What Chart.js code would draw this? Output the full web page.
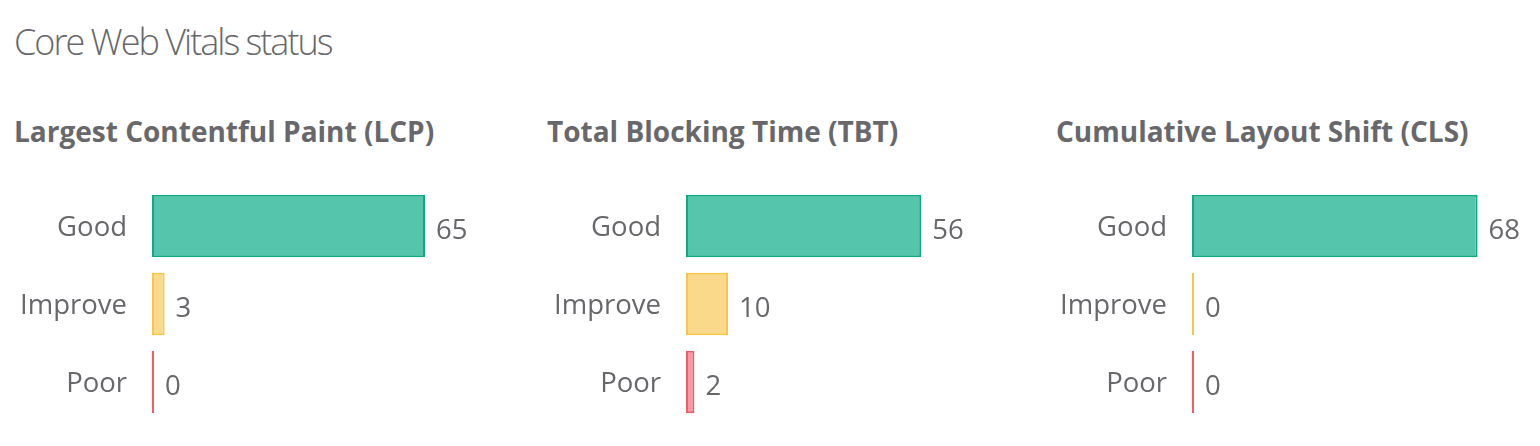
<!DOCTYPE html>
<html>
<head>
<meta charset="utf-8">
<script src="https://cdn.jsdelivr.net/npm/chart.js@4/dist/chart.umd.min.js"></script>
<style>
  html, body { margin: 0; padding: 0; background: #fff; overflow: hidden; width: 1540px; height: 446px; }
  body { position: relative; font-family: "Open Sans", sans-serif; color: #68686c; }
  #main-title { position: absolute; left: 14px; top: 20px; font-size: 36px; font-weight: 300; letter-spacing: -2px; line-height: 44px; white-space: nowrap; }
  .sec-title { position: absolute; top: 113px; font-size: 28px; font-weight: 700; letter-spacing: 0px; line-height: 36px; white-space: nowrap; }
  canvas { position: absolute; top: 0; display: block; }
</style>
</head>
<body>
<div id="main-title">Core Web Vitals status</div>
<div class="sec-title" id="t0" style="left:14px">Largest Contentful Paint (LCP)</div>
<div class="sec-title" id="t1" style="left:547px">Total Blocking Time (TBT)</div>
<div class="sec-title" id="t2" style="left:1056px">Cumulative Layout Shift (CLS)</div>
<canvas id="c0" width="582" height="446" style="left:0px"></canvas>
<canvas id="c1" width="582" height="446" style="left:534px"></canvas>
<canvas id="c2" width="582" height="446" style="left:1040px"></canvas>
<script>
const categories = ["Good", "Improve", "Poor"];
const lcpValues = [65, 3, 0];
const tbtValues = [56, 10, 2];
const clsValues = [68, 0, 0];
const axisMax = 100;

const fillColors = ["#55c6ac", "#fbd98a", "#f7999e"];
const borderColors = ["#12a884", "#f7c548", "#ea5f69"];
const textColor = "#68686c";
const fontFamily = "'Open Sans', sans-serif";
const labelSize = 27.5;

const valueLabels = {
  id: "valueLabels",
  afterDatasetsDraw(chart) {
    const ctx = chart.ctx;
    const meta = chart.getDatasetMeta(0);
    const data = chart.data.datasets[0].data;
    ctx.save();
    ctx.font = labelSize + "px " + fontFamily;
    ctx.fillStyle = textColor;
    ctx.textAlign = "left";
    ctx.textBaseline = "middle";
    meta.data.forEach((bar, i) => {
      const right = Math.max(bar.x, bar.base + 2);
      ctx.fillText(String(data[i]), right + 11, bar.y + 5);
    });
    ctx.restore();
  }
};

function makeChart(id, values) {
  return new Chart(document.getElementById(id), {
    type: "bar",
    data: {
      labels: categories,
      datasets: [{
        data: values,
        backgroundColor: fillColors,
        borderColor: borderColors,
        borderWidth: 2,
        borderSkipped: false,
        minBarLength: 2,
        barPercentage: 0.8,
        categoryPercentage: 1.0
      }]
    },
    options: {
      indexAxis: "y",
      responsive: false,
      maintainAspectRatio: false,
      devicePixelRatio: 1,
      animation: false,
      layout: { padding: { top: 187, bottom: 25, left: 0, right: 10 } },
      plugins: { legend: { display: false }, tooltip: { enabled: false }, title: { display: false } },
      scales: {
        x: { min: 0, max: axisMax, display: false },
        y: {
          grid: { display: false, drawTicks: false },
          border: { display: false },
          ticks: { padding: 25, labelOffset: 2, color: textColor, font: { family: fontFamily, size: labelSize } },
          afterFit(scale) {
            scale.width = 152;
            scale.paddingTop = 0;
            scale.paddingBottom = 0;
          }
        }
      }
    },
    plugins: [valueLabels]
  });
}

makeChart("c0", lcpValues);
makeChart("c1", tbtValues);
makeChart("c2", clsValues);
</script>
</body>
</html>
